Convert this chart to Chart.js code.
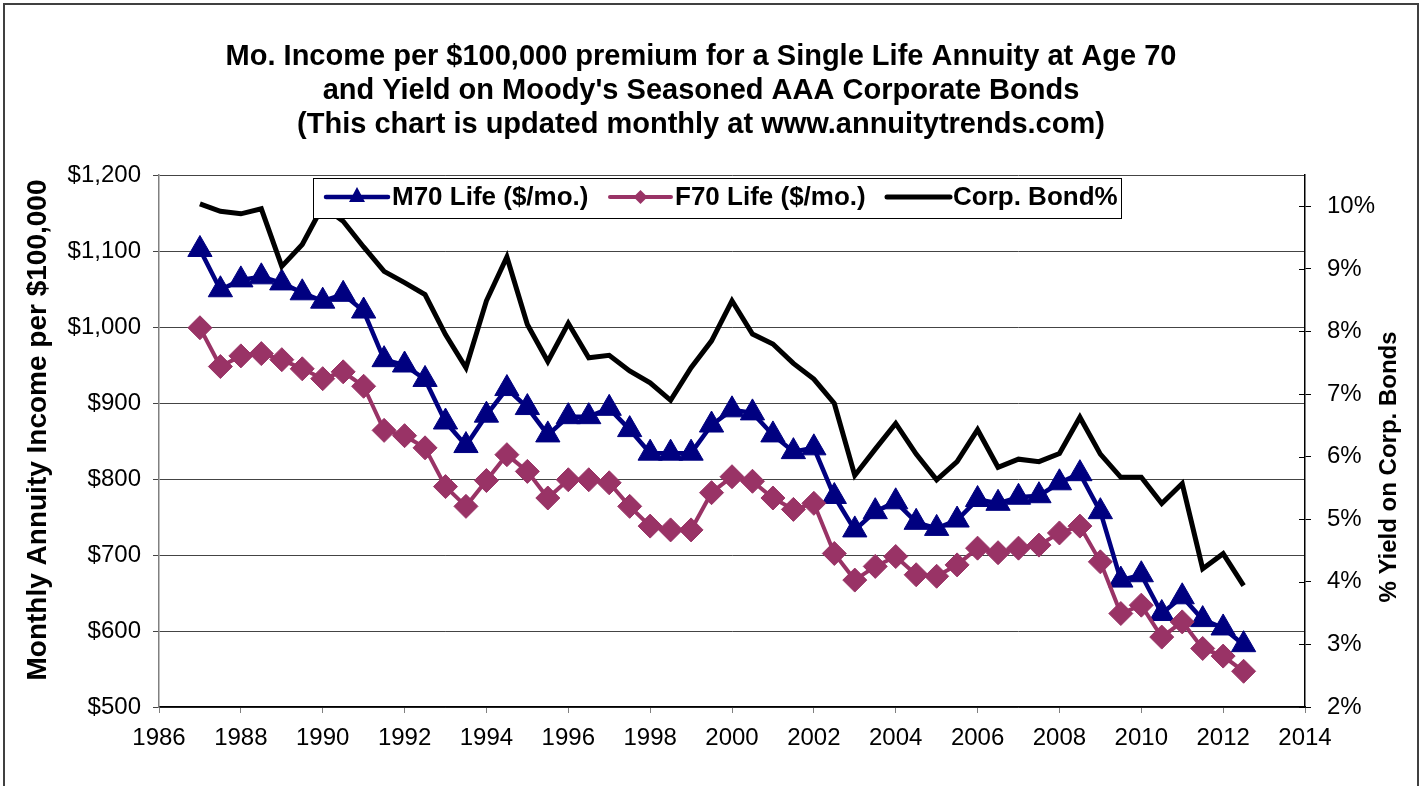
<!DOCTYPE html>
<html>
<head>
<meta charset="utf-8">
<script src="https://cdn.jsdelivr.net/npm/chart.js@4/dist/chart.umd.min.js"></script>
<style>
  html, body { margin: 0; padding: 0; background: #fff; }
  canvas { display: block; }
</style>
</head>
<body>
<canvas id="c" width="1422" height="786"></canvas>
<script>
// ---- data ----
const years = [1987, 1987.5, 1988, 1988.5, 1989, 1989.5, 1990, 1990.5, 1991, 1991.5,
               1992, 1992.5, 1993, 1993.5, 1994, 1994.5, 1995, 1995.5, 1996, 1996.5,
               1997, 1997.5, 1998, 1998.5, 1999, 1999.5, 2000, 2000.5, 2001, 2001.5,
               2002, 2002.5, 2003, 2003.5, 2004, 2004.5, 2005, 2005.5, 2006, 2006.5,
               2007, 2007.5, 2008, 2008.5, 2009, 2009.5, 2010, 2010.5, 2011, 2011.5,
               2012, 2012.5];
const m70 = [1102, 1049, 1062, 1066, 1058, 1045, 1034, 1043, 1021, 957,
             950, 931, 875, 844, 884, 919, 894, 858, 882, 882,
             893, 865, 834, 834, 834, 871, 891, 887, 858, 836,
             841, 777, 733, 757, 770, 743, 735, 746, 773, 768,
             776, 778, 795, 807, 757, 667, 674, 623, 645, 615,
             604, 582];
const f70 = [999, 948, 962, 965, 957, 945, 932, 941, 922, 864,
             857, 841, 790, 764, 798, 832, 810, 775, 799, 799,
             795, 764, 738, 733, 733, 782, 803, 797, 775, 760,
             768, 702, 667, 685, 698, 674, 672, 687, 709, 703,
             709, 713, 729, 738, 691, 623, 634, 592, 612, 577,
             567, 547];
const bond = [10.04, 9.92, 9.88, 9.96, 9.04, 9.39, 10.0, 9.76, 9.35, 8.96,
              8.78, 8.59, 7.95, 7.42, 8.49, 9.19, 8.11, 7.52, 8.13, 7.58,
              7.62, 7.37, 7.18, 6.90, 7.42, 7.85, 8.49, 7.96, 7.80, 7.49,
              7.24, 6.85, 5.70, 6.12, 6.53, 6.04, 5.63, 5.92, 6.43, 5.83,
              5.96, 5.92, 6.05, 6.63, 6.04, 5.67, 5.67, 5.25, 5.57, 4.21,
              4.45, 3.94];
const seriesNames = ['M70 Life ($/mo.)', 'F70 Life ($/mo.)', 'Corp. Bond%'];
const titleLines = [
  'Mo. Income per $100,000 premium for a Single Life Annuity at Age 70',
  "and Yield on Moody's Seasoned AAA Corporate Bonds",
  '(This chart is updated monthly at www.annuitytrends.com)'
];
const leftAxisTitle = 'Monthly Annuity Income per $100,000';
const rightAxisTitle = '% Yield on Corp. Bonds';

// ---- styles ----
const FONT = '"Liberation Sans", Arial, Helvetica, sans-serif';
const NAVY = '#000080';
const PLUM = '#993366';
const BLACK = '#000000';

const pts = (ys) => years.map((x, i) => ({ x: x, y: ys[i] }));

const decorPlugin = {
  id: 'decor',
  beforeDraw(chart) {
    const ctx = chart.ctx;
    ctx.save();
    ctx.fillStyle = '#fff';
    ctx.fillRect(0, 0, chart.width, chart.height);
    ctx.restore();
  },
  afterDatasetsDraw(chart) {
    const ctx = chart.ctx;
    ctx.save();
    // legend box
    const lx = 313.5, ly = 178.5, lw = 808, lh = 40;
    ctx.fillStyle = '#fff';
    ctx.fillRect(lx, ly, lw, lh);
    ctx.strokeStyle = '#000';
    ctx.lineWidth = 1;
    ctx.strokeRect(lx, ly, lw, lh);
    const cy = 197;
    const items = [
      { x0: 326, x1: 388, color: NAVY, lw: 4.5, marker: 'triangle', text: seriesNames[0], tx: 392 },
      { x0: 610, x1: 671, color: PLUM, lw: 4, marker: 'diamond', text: seriesNames[1], tx: 675 },
      { x0: 887, x1: 950, color: BLACK, lw: 5, marker: null, text: seriesNames[2], tx: 953 }
    ];
    items.forEach(it => {
      ctx.beginPath();
      ctx.strokeStyle = it.color;
      ctx.lineWidth = it.lw;
      ctx.lineCap = 'round';
      ctx.moveTo(it.x0, cy);
      ctx.lineTo(it.x1, cy);
      ctx.stroke();
      const mx = (it.x0 + it.x1) / 2;
      ctx.fillStyle = it.color;
      if (it.marker === 'triangle') {
        ctx.beginPath();
        ctx.moveTo(mx, cy - 10);
        ctx.lineTo(mx + 8, cy + 5);
        ctx.lineTo(mx - 8, cy + 5);
        ctx.closePath();
        ctx.fill();
      } else if (it.marker === 'diamond') {
        ctx.beginPath();
        ctx.moveTo(mx, cy - 7);
        ctx.lineTo(mx + 7, cy);
        ctx.lineTo(mx, cy + 7);
        ctx.lineTo(mx - 7, cy);
        ctx.closePath();
        ctx.fill();
      }
      ctx.fillStyle = '#000';
      ctx.font = 'bold 26px ' + FONT;
      ctx.textAlign = 'left';
      ctx.textBaseline = 'middle';
      ctx.fillText(it.text, it.tx, cy + 1);
    });
    ctx.restore();
  },
  afterDraw(chart) {
    const ctx = chart.ctx;
    const area = chart.chartArea;
    ctx.save();
    // outer frame
    ctx.strokeStyle = '#404040';
    ctx.lineWidth = 2;
    ctx.strokeRect(4, 4, 1414, 800);
    // title
    ctx.fillStyle = '#000';
    ctx.font = 'bold 29px ' + FONT;
    ctx.textAlign = 'center';
    ctx.textBaseline = 'middle';
    const ty = [57, 91, 125];
    titleLines.forEach((t, i) => ctx.fillText(t, 701, ty[i]));
    // left axis title
    ctx.save();
    ctx.translate(38, 430);
    ctx.rotate(-Math.PI / 2);
    ctx.font = 'bold 28px ' + FONT;
    ctx.fillText(leftAxisTitle, 0, 0);
    ctx.restore();
    // right axis title
    ctx.save();
    ctx.translate(1389, 467);
    ctx.rotate(-Math.PI / 2);
    ctx.font = 'bold 24px ' + FONT;
    ctx.fillText(rightAxisTitle, 0, 0);
    ctx.restore();
    // inner half of cross ticks on right axis
    const y1 = chart.scales.y1;
    ctx.strokeStyle = '#000';
    ctx.lineWidth = 1;
    y1.ticks.forEach(t => {
      const yy = Math.round(y1.getPixelForValue(t.value)) + 0.5;
      ctx.beginPath();
      ctx.moveTo(area.right - 6, yy);
      ctx.lineTo(area.right, yy);
      ctx.stroke();
    });
    ctx.restore();
  }
};

new Chart(document.getElementById('c'), {
  type: 'line',
  data: {
    datasets: [
      {
        label: seriesNames[0], data: pts(m70), yAxisID: 'y', order: 3,
        borderColor: NAVY, backgroundColor: NAVY, borderWidth: 4.5,
        pointStyle: 'triangle', pointRadius: 14, pointBorderWidth: 1,
        pointBackgroundColor: NAVY, pointBorderColor: NAVY, tension: 0
      },
      {
        label: seriesNames[1], data: pts(f70), yAxisID: 'y', order: 2,
        borderColor: PLUM, backgroundColor: PLUM, borderWidth: 4,
        pointStyle: 'rectRot', pointRadius: 12, pointBorderWidth: 1,
        pointBackgroundColor: PLUM, pointBorderColor: PLUM, tension: 0
      },
      {
        label: seriesNames[2], data: pts(bond), yAxisID: 'y1', order: 1,
        borderColor: BLACK, backgroundColor: BLACK, borderWidth: 5,
        pointRadius: 0, tension: 0, borderJoinStyle: 'miter'
      }
    ]
  },
  options: {
    responsive: false,
    animation: false,
    devicePixelRatio: 1,
    layout: { padding: { left: 0, right: 0, top: 175, bottom: 0 } },
    plugins: {
      legend: { display: false },
      title: { display: false },
      tooltip: { enabled: false }
    },
    scales: {
      x: {
        type: 'linear', position: 'bottom', min: 1986, max: 2014,
        ticks: {
          stepSize: 2, autoSkip: false, maxRotation: 0, padding: 11,
          color: '#000', font: { family: FONT, size: 24 },
          callback: (v) => String(v)
        },
        grid: { drawOnChartArea: false, drawTicks: true, tickLength: 6, color: '#808080' },
        border: { color: '#000', width: 1.5 },
        afterFit(s) { s.height = 79; }
      },
      y: {
        position: 'left', min: 500, max: 1200,
        ticks: {
          stepSize: 100, padding: 12, color: '#000', font: { family: FONT, size: 24 },
          callback: (v) => '$' + Number(v).toLocaleString('en-US')
        },
        grid: { color: '#444', tickLength: 6, lineWidth: 1 },
        border: { color: '#808080', width: 1.5 },
        afterFit(s) { s.width = 159; }
      },
      y1: {
        position: 'right', min: 2, max: 10.5,
        ticks: {
          stepSize: 1, includeBounds: false, padding: 16, color: '#000',
          font: { family: FONT, size: 24 },
          callback: (v) => v + '%'
        },
        grid: { drawOnChartArea: false, tickLength: 6, color: '#000' },
        border: { color: '#000', width: 1.5 },
        afterFit(s) { s.width = 117; }
      }
    }
  },
  plugins: [decorPlugin]
});
</script>
</body>
</html>
